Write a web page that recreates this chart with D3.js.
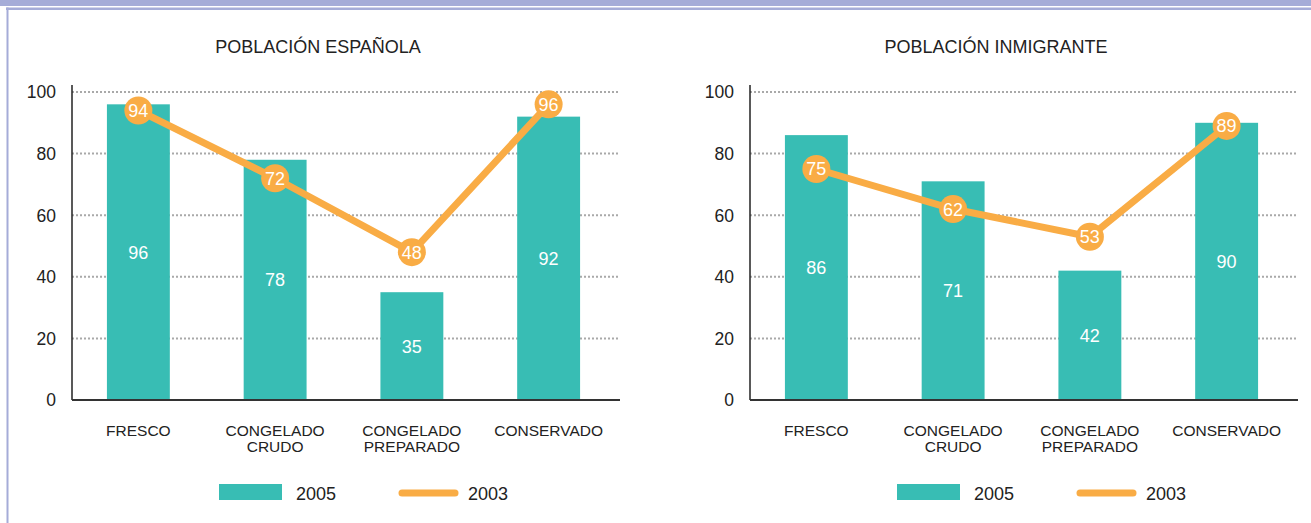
<!DOCTYPE html>
<html>
<head>
<meta charset="utf-8">
<script src="https://cdn.jsdelivr.net/npm/d3@7"></script>
<style>
  body { margin: 0; background: #fff; }
  svg { display: block; font-family: "Liberation Sans", Arial, Helvetica, sans-serif; }
</style>
</head>
<body>
<div id="chart-area"></div>
<script>
// *********************
// Data
// *********************

const categorias = [["FRESCO"], ["CONGELADO", "CRUDO"], ["CONGELADO", "PREPARADO"], ["CONSERVADO"]];
const titulos = ["POBLACIÓN ESPAÑOLA", "POBLACIÓN INMIGRANTE"];
const espanola2005 = [96, 78, 35, 92];
const espanola2003 = [94, 72, 48, 96];
const inmigrante2005 = [86, 71, 42, 90];
const inmigrante2003 = [75, 62, 53, 89];
const yTicks = [0, 20, 40, 60, 80, 100];
const leyenda = ["2005", "2003"];

// *********************
// Basic setup
// *********************

const width = 1311;
const height = 523;
const teal = "#38bdb4";
const orange = "#f9ac45";
const frame = "#a5acd8";

const svg = d3.select("#chart-area")
	.append("svg")
	.attr("width", width)
	.attr("height", height);

// Frame: top band + thin line + left border
svg.append("rect").attr("x", 0).attr("y", 0).attr("width", width).attr("height", 6).attr("fill", frame);
svg.append("rect").attr("x", 6).attr("y", 7.5).attr("width", width - 6).attr("height", 2.5).attr("fill", frame);
svg.append("rect").attr("x", 6.5).attr("y", 7.5).attr("width", 2).attr("height", height).attr("fill", frame);

// Shared y scale (same for both panels)
const y = d3.scaleLinear()
	.domain([0, 100])
	.range([400, 92]);

// *********************
// Panel drawing
// *********************

function drawPanel(x0, x1, title, bars, line) {
	const g = svg.append("g");

	const x = d3.scaleBand()
		.domain(categorias.map((d, i) => i))
		.range([x0 - 2, x1 - 3])
		.paddingInner(0.54)
		.paddingOuter(0.27);

	// Title
	g.append("text")
		.attr("x", x0 + 246)
		.attr("y", 53)
		.attr("text-anchor", "middle")
		.attr("font-size", "18px")
		.attr("fill", "#222")
		.text(title);

	// Dotted gridlines
	g.selectAll(".grid")
		.data(yTicks.filter(d => d > 0))
		.enter().append("line")
		.attr("x1", x0)
		.attr("x2", x1)
		.attr("y1", d => y(d))
		.attr("y2", d => y(d))
		.attr("stroke", "#a9a9a9")
		.attr("stroke-width", 2)
		.attr("stroke-dasharray", "2,2");

	// Tick labels
	g.selectAll(".tick-label")
		.data(yTicks)
		.enter().append("text")
		.attr("x", x0 - 16)
		.attr("y", d => y(d))
		.attr("dy", "0.36em")
		.attr("text-anchor", "end")
		.attr("font-size", "17.5px")
		.attr("fill", "#222")
		.text(d => d);

	// Bars
	g.selectAll(".bar")
		.data(bars)
		.enter().append("rect")
		.attr("x", (d, i) => x(i))
		.attr("y", d => y(d))
		.attr("width", x.bandwidth())
		.attr("height", d => y(0) - y(d))
		.attr("fill", teal);

	// Bar labels
	g.selectAll(".bar-label")
		.data(bars)
		.enter().append("text")
		.attr("x", (d, i) => x(i) + x.bandwidth() / 2)
		.attr("y", d => (y(d) + y(0)) / 2)
		.attr("dy", "0.36em")
		.attr("text-anchor", "middle")
		.attr("font-size", "18px")
		.attr("fill", "#fff")
		.text(d => d);

	// Axes
	g.append("line")
		.attr("x1", x0).attr("x2", x0)
		.attr("y1", 85).attr("y2", y(0))
		.attr("stroke", "#222").attr("stroke-width", 1.5);
	g.append("line")
		.attr("x1", x0).attr("x2", x1)
		.attr("y1", y(0)).attr("y2", y(0))
		.attr("stroke", "#333").attr("stroke-width", 1.8);

	// 2003 line
	const lineGen = d3.line()
		.x((d, i) => x(i) + x.bandwidth() / 2)
		.y(d => y(d));

	g.append("path")
		.datum(line)
		.attr("d", lineGen)
		.attr("fill", "none")
		.attr("stroke", orange)
		.attr("stroke-width", 7)
		.attr("stroke-linejoin", "round");

	g.selectAll(".dot")
		.data(line)
		.enter().append("circle")
		.attr("cx", (d, i) => x(i) + x.bandwidth() / 2)
		.attr("cy", d => y(d))
		.attr("r", 14)
		.attr("fill", orange);

	g.selectAll(".dot-label")
		.data(line)
		.enter().append("text")
		.attr("x", (d, i) => x(i) + x.bandwidth() / 2)
		.attr("y", d => y(d))
		.attr("dy", "0.36em")
		.attr("text-anchor", "middle")
		.attr("font-size", "18px")
		.attr("fill", "#fff")
		.text(d => d);

	// Category labels
	const cat = g.selectAll(".cat")
		.data(categorias)
		.enter().append("text")
		.attr("x", (d, i) => x(i) + x.bandwidth() / 2)
		.attr("y", 436)
		.attr("text-anchor", "middle")
		.attr("font-size", "15.5px")
		.attr("fill", "#222");

	cat.selectAll("tspan")
		.data(d => d)
		.enter().append("tspan")
		.attr("x", function() { return d3.select(this.parentNode).attr("x"); })
		.attr("dy", (d, i) => i === 0 ? 0 : 16)
		.text(d => d);

	// Legend
	const lg = g.append("g")
		.attr("transform", "translate(" + (x0 + 147) + ",0)");

	lg.append("rect")
		.attr("x", 0).attr("y", 484)
		.attr("width", 63).attr("height", 16)
		.attr("fill", teal);
	lg.append("text")
		.attr("x", 77).attr("y", 500)
		.attr("font-size", "18px")
		.attr("fill", "#222")
		.text(leyenda[0]);
	lg.append("line")
		.attr("x1", 183).attr("x2", 236)
		.attr("y1", 493).attr("y2", 493)
		.attr("stroke", orange)
		.attr("stroke-width", 7)
		.attr("stroke-linecap", "round");
	lg.append("text")
		.attr("x", 249).attr("y", 500)
		.attr("font-size", "18px")
		.attr("fill", "#222")
		.text(leyenda[1]);
}

drawPanel(72, 620, titulos[0], espanola2005, espanola2003);
drawPanel(750, 1298, titulos[1], inmigrante2005, inmigrante2003);
</script>
</body>
</html>
